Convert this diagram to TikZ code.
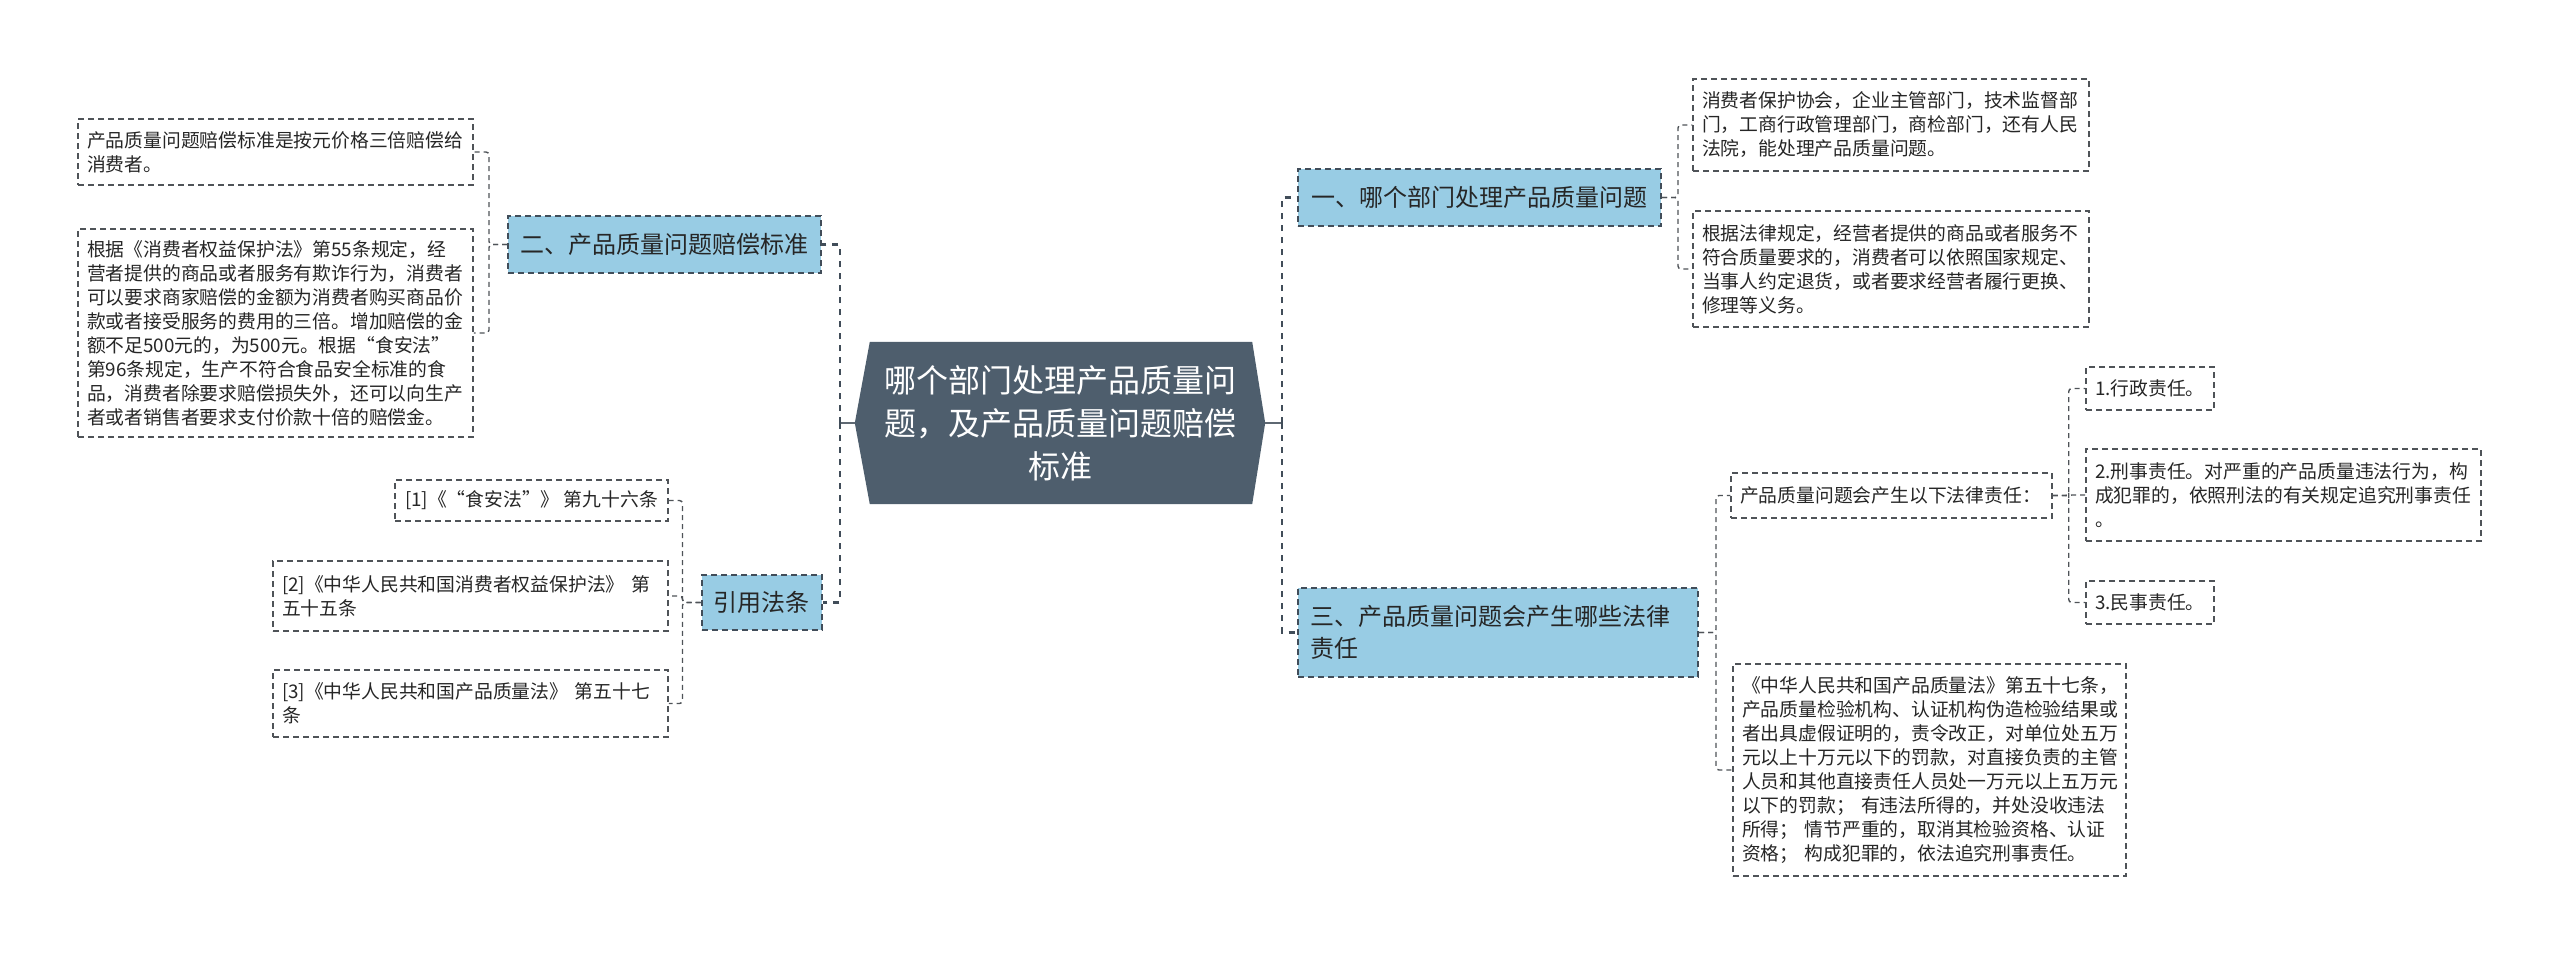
\documentclass[tikz,border=0pt]{standalone}
\usepackage{fontspec}
\setmainfont{Noto Sans CJK SC}
\usetikzlibrary{calc,backgrounds}
\definecolor{hexfill}{HTML}{4E5E6D}
\definecolor{bluefill}{HTML}{98CCE4}
\definecolor{mainline}{HTML}{414D59}
\definecolor{leafline}{HTML}{4F5358}
\definecolor{txt}{HTML}{262626}
\tikzset{
  leafbox/.style={draw=leafline, line width=1.5pt, dash pattern=on 6pt off 4pt, text=txt,
    font=\fontsize{18.8}{24}\selectfont, align=left, inner xsep=9pt, inner ysep=3pt},
  branchbox/.style={draw=mainline, fill=bluefill, line width=2pt, dash pattern=on 6pt off 4pt,
    text=txt, font=\fontsize{24}{32}\selectfont, inner xsep=12pt, inner ysep=3pt},
  mainconn/.style={draw=mainline, line width=2.5pt, dash pattern=on 6pt off 6pt},
  solidconn/.style={draw=mainline!85, line width=2.5pt},
  leafconn/.style={draw=leafline, line width=1.4pt, dash pattern=on 5pt off 4pt, rounded corners=3pt},
}
\begin{document}
\begin{tikzpicture}[x=1pt,y=-1pt]
\useasboundingbox (0,0) rectangle (2560,956);
\begin{scope}[on background layer]
  \fill[white] (0,0) rectangle (2560,956);
\end{scope}

% center
\node[font=\fontsize{32}{43}\selectfont, text=white, align=center, text width=390pt,
  minimum width=410pt, minimum height=162pt, inner sep=0pt] (c) at (1060,423)
  {哪个部门处理产品质量问\\题，及产品质量问题赔偿\\标准};
\begin{scope}[on background layer]
  \fill[hexfill] (c.west) -- ($(c.north west)+(15,0)$) -- ($(c.north east)+(-13,0)$) -- (c.east)
    -- ($(c.south east)+(-13,0)$) -- ($(c.south west)+(15,0)$) -- cycle;
\end{scope}

% left branches
\node[branchbox, minimum width=313pt, minimum height=57pt] (b2) at (664.5,244.5) {二、产品质量问题赔偿标准};
\node[branchbox, minimum width=119pt, minimum height=55pt] (cite) at (761.5,602.5) {引用法条};

\node[leafbox, text width=377pt, minimum height=66pt] (L1) at (275.5,152)
  {产品质量问题赔偿标准是按元价格三倍赔偿给\\消费者。};
\node[leafbox, text width=377pt, minimum height=208pt] (L2) at (275.5,333)
  {根据《消费者权益保护法》第55条规定，经\\营者提供的商品或者服务有欺诈行为，消费者\\可以要求商家赔偿的金额为消费者购买商品价\\款或者接受服务的费用的三倍。增加赔偿的金\\额不足500元的，为500元。根据“食安法”\\第96条规定，生产不符合食品安全标准的食\\品，消费者除要求赔偿损失外，还可以向生产\\者或者销售者要求支付价款十倍的赔偿金。};

\node[leafbox, minimum width=273pt, minimum height=41pt] (C1) at (531.5,500.5)
  {[1]《“食安法”》 第九十六条};
\node[leafbox, text width=377pt, minimum height=70pt] (C2) at (470.5,596)
  {[2]《中华人民共和国消费者权益保护法》 第\\五十五条};
\node[leafbox, text width=377pt, minimum height=67pt] (C3) at (470.5,703.5)
  {[3]《中华人民共和国产品质量法》 第五十七\\条};

% right branches
\node[branchbox, minimum width=363pt, minimum height=57pt] (b1) at (1479.5,197.5) {一、哪个部门处理产品质量问题};
\node[branchbox, text width=376pt, align=left, minimum height=89pt] (b3) at (1498,632.5)
  {三、产品质量问题会产生哪些法律\\责任};

\node[leafbox, text width=378pt, minimum height=92pt] (RA) at (1891,125)
  {消费者保护协会，企业主管部门，技术监督部\\门，工商行政管理部门，商检部门，还有人民\\法院，能处理产品质量问题。};
\node[leafbox, text width=378pt, minimum height=116pt] (RB) at (1891,269)
  {根据法律规定，经营者提供的商品或者服务不\\符合质量要求的，消费者可以依照国家规定、\\当事人约定退货，或者要求经营者履行更换、\\修理等义务。};

\node[leafbox, text width=303pt, minimum height=45pt] (sub) at (1891.5,495.5)
  {产品质量问题会产生以下法律责任：};
\node[leafbox, text width=375pt, minimum height=212pt] (RL) at (1929.5,770)
  {《中华人民共和国产品质量法》第五十七条，\\产品质量检验机构、认证机构伪造检验结果或\\者出具虚假证明的，责令改正，对单位处五万\\元以上十万元以下的罚款，对直接负责的主管\\人员和其他直接责任人员处一万元以上五万元\\以下的罚款；\ 有违法所得的，并处没收违法\\所得；\ 情节严重的，取消其检验资格、认证\\资格；\ 构成犯罪的，依法追究刑事责任。};

\node[leafbox, text width=110pt, minimum height=43pt] (S1) at (2150,388.5) {1.行政责任。};
\node[leafbox, text width=377pt, minimum height=92pt] (S2) at (2283.5,495)
  {2.刑事责任。对严重的产品质量违法行为，构\\成犯罪的，依照刑法的有关规定追究刑事责任\\。};
\node[leafbox, text width=110pt, minimum height=43pt] (S3) at (2150,602.5) {3.民事责任。};

% main connectors
\draw[solidconn] (c.west) -- ++(-15,0) coordinate (lspine);
\draw[mainconn] (lspine) |- (b2.east);
\draw[mainconn] (lspine) |- (cite.east);
\draw[solidconn] (c.east) -- ++(17,0) coordinate (rspine);
\draw[mainconn] (rspine) |- (b1.west);
\draw[mainconn] (rspine) |- (b3.west);

% leaf connectors
\draw[leafconn] (b2.west) -- ++(-18,0) |- (L1.east);
\draw[leafconn] (b2.west) -- ++(-18,0) |- (L2.east);
\draw[leafconn] (cite.west) -- ++(-18,0) |- (C1.east);
\draw[leafconn] (cite.west) -- ++(-18,0) |- (C2.east);
\draw[leafconn] (cite.west) -- ++(-18,0) |- (C3.east);
\draw[leafconn] (b1.east) -- ++(16,0) |- (RA.west);
\draw[leafconn] (b1.east) -- ++(16,0) |- (RB.west);
\draw[leafconn] (b3.east) -- ++(17,0) |- (sub.west);
\draw[leafconn] (b3.east) -- ++(17,0) |- (RL.west);
\draw[leafconn] (sub.east) -- ++(16,0) |- (S1.west);
\draw[leafconn] (sub.east) -- ++(16,0) |- (S2.west);
\draw[leafconn] (sub.east) -- ++(16,0) |- (S3.west);
\end{tikzpicture}
\end{document}
